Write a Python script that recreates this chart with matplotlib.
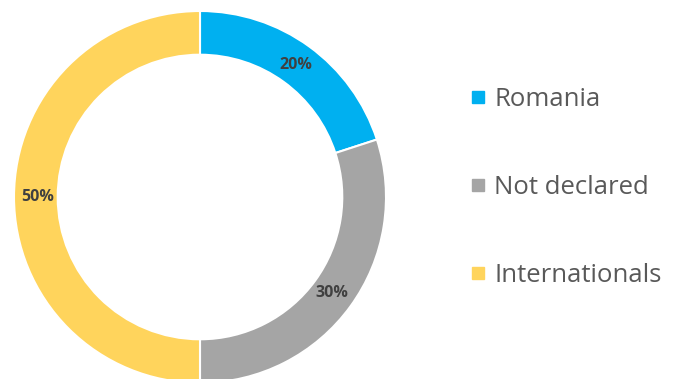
import matplotlib
matplotlib.use("Agg")
import matplotlib.pyplot as plt
from matplotlib.lines import Line2D

labels = ["Romania", "Not declared", "Internationals"]
shares = [20, 30, 50]
colors = ["#00B0F0", "#A5A5A5", "#FFD45C"]

plt.rcParams["font.family"] = ["Open Sans", "DejaVu Sans"]

fig = plt.figure(figsize=(6.8, 3.79), dpi=100)
# square axes centred on the ring (centre ~ x200, y182 from bottom, r ~186 px)
R = 186
ax = fig.add_axes([(200 - R) / 680, (182 - R) / 379, 2 * R / 680, 2 * R / 379])
wedges, _, autotexts = ax.pie(
    shares, colors=colors, startangle=90, counterclock=False, radius=1.0,
    autopct="%d%%", pctdistance=0.875,
    wedgeprops=dict(width=0.235, edgecolor="white", linewidth=1.5),
    textprops=dict(fontsize=11.5, fontweight="bold", color="#404040"))
ax.set_xlim(-1, 1); ax.set_ylim(-1, 1)
ax.set_aspect("equal")
ax.axis("off")

handles = [Line2D([], [], ls="none", marker="s", markersize=9,
                  markerfacecolor=c, markeredgecolor=c) for c in colors]
fig.legend(handles, labels, loc="center left", bbox_to_anchor=(471 / 680, 0.505),
           frameon=False, fontsize=18.5, labelcolor="#595959",
           handlelength=0.55, handletextpad=0.35, labelspacing=2.45,
           borderpad=0, borderaxespad=0)

fig.savefig("out.png", dpi=100)
